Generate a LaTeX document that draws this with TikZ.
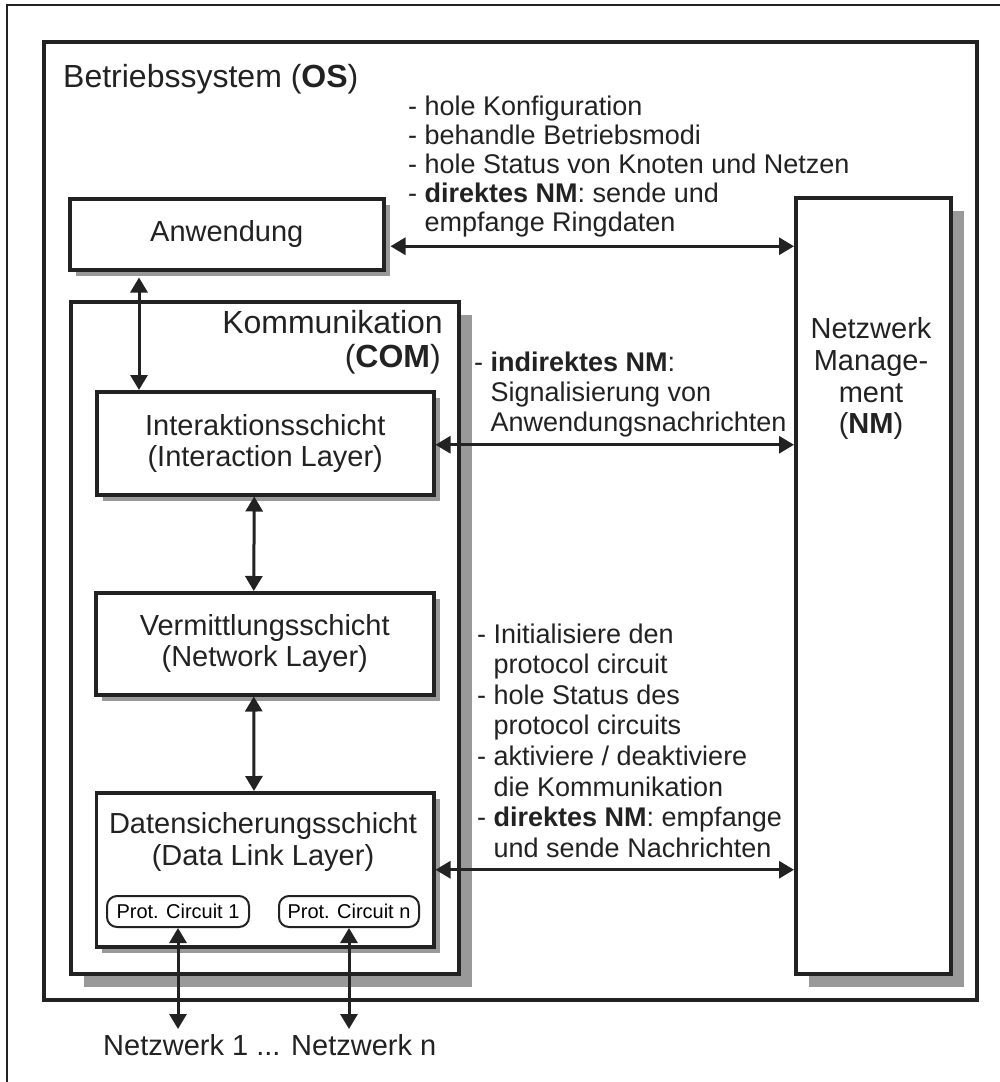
\documentclass[tikz,border=0pt]{standalone}
\usepackage{fontspec}
\setmainfont{Liberation Sans}
\usetikzlibrary{arrows.meta,shadows,calc}
\definecolor{ink}{HTML}{222222}
\definecolor{shade}{HTML}{999999}
\newcommand\bigfont{\fontsize{32}{34}\selectfont}
\newcommand\midfont{\fontsize{29}{31}\selectfont}
\newcommand\lstfont{\fontsize{27}{30}\selectfont}
\newcommand\smlfont{\fontsize{20}{22}\selectfont}
\newcommand\tline[4]{\node[txt, font=\lstfont] (#1) at (#2,#3) {#4};}
\begin{document}
\begin{tikzpicture}[x=1pt,y=-1pt,
  box/.style={draw=ink, line width=3.5pt, fill=white, inner sep=0pt, anchor=north west},
  shd/.style={general shadow={fill=shade, shadow xshift=#1, shadow yshift=-#1}},
  pcbox/.style={draw=ink, line width=2pt, fill=white, rounded corners=10pt, inner sep=0pt,
    minimum height=31pt, font=\smlfont},
  txt/.style={anchor=base west, inner sep=0pt, text=ink},
  ctxt/.style={anchor=base, inner sep=0pt, text=ink, font=\midfont},
  arr/.style={{Triangle[length=15pt,width=17pt]}-{Triangle[length=15pt,width=17pt]}, line width=3pt, draw=ink},
]
\useasboundingbox (0,0) rectangle (999,1082);
\fill[white] (0,0) rectangle (999,1082);
% outer thin frame
\draw[ink, line width=1.5pt] (7,5) rectangle (1012,1095);
% OS frame
\node[box, line width=4pt, minimum width=933pt, minimum height=958pt] (os) at (42,40) {};
\node[txt, font=\bigfont] (ostitle) at (63,87) {Betriebssystem (\textbf{OS})};

% NM box
\node[box, shd=13pt, minimum width=155pt, minimum height=776pt] (nm) at (794,196) {};
\node[ctxt] (nm1) at (871,338) {Netzwerk};
\node[ctxt] (nm2) at (871,370) {Manage-};
\node[ctxt] (nm3) at (871,402) {ment};
\node[ctxt] (nm4) at (871,433) {(\textbf{NM})};

% Anwendung
\node[box, shd=6pt, minimum width=314pt, minimum height=71pt, font=\midfont, text=ink] (anw) at (68,197) {Anwendung};

% COM
\node[box, shd=13pt, minimum width=388pt, minimum height=672pt] (com) at (69,300) {};
\node[txt, anchor=base east, font=\bigfont] (com1) at (443,333) {Kommunikation};
\node[txt, anchor=base east, font=\bigfont] (com2) at (441,367) {(\textbf{COM})};

% layers
\node[box, shd=6pt, minimum width=337pt, minimum height=103pt, font=\midfont, text=ink, align=center] (int) at (95,390) {Interaktionsschicht\\(Interaction Layer)};
\node[box, shd=6pt, minimum width=338pt, minimum height=102pt, font=\midfont, text=ink, align=center] (verm) at (94,591) {Vermittlungsschicht\\(Network Layer)};
\node[box, shd=6pt, minimum width=337.5pt, minimum height=154pt] (dl) at (94.5,791) {};
\node[ctxt] (dl1) at (263,833) {Datensicherungsschicht};
\node[ctxt] (dl2) at (263,865) {(Data Link Layer)};

% protocol circuits
\node[pcbox, minimum width=142pt] (pc1) at (178,911.5) {Prot. Circuit 1};
\node[pcbox, minimum width=140pt] (pcn) at (349,911.5) {Prot. Circuit n};

% networks
\node[txt, font=\midfont] (net) at (103,1055) {Netzwerk 1 ... Netzwerk n};
\coordinate (net1) at ($(pc1.south)+(0,101)$);
\coordinate (netn) at ($(pcn.south)+(0,101)$);

% top list
\tline{t1}{408}{115}{- hole Konfiguration}
\tline{t2}{408}{144}{- behandle Betriebsmodi}
\tline{t3}{408}{173}{- hole Status von Knoten und Netzen}
\tline{t4}{408}{202}{- \textbf{direktes NM}: sende und}
\tline{t5}{408}{231}{\phantom{- }empfange Ringdaten}

% middle list
\tline{m1}{474}{371}{- \textbf{indirektes NM}:}
\tline{m2}{474}{401}{\phantom{- }Signalisierung von}
\tline{m3}{474}{431}{\phantom{- }Anwendungsnachrichten}

% bottom list
\tline{b1}{477}{643}{- Initialisiere den}
\tline{b2}{477}{673.6}{\phantom{- }protocol circuit}
\tline{b3}{477}{704.2}{- hole Status des}
\tline{b4}{477}{734.8}{\phantom{- }protocol circuits}
\tline{b5}{477}{765.4}{- aktiviere / deaktiviere}
\tline{b6}{477}{796}{\phantom{- }die Kommunikation}
\tline{b7}{477}{826.6}{- \textbf{direktes NM}: empfange}
\tline{b8}{477}{857.2}{\phantom{- }und sende Nachrichten}

% connectors
\coordinate (a1) at ($(anw.east)+(5,12)$);
\draw[arr] (a1) -- (a1 -| nm.west);
\draw[arr] ($(int.east)+(0,1.5)$) -- ($(int.east -| nm.west)+(0,1.5)$);
\draw[arr] (dl.east) -- (dl.east -| nm.west);
\draw[arr] ($(anw.south west)+(71,6)$) -- ($(int.north west)+(44,0)$);
\draw[arr] ($(int.south)+(-11,0)$) -- ($(verm.north)+(-11,0)$);
\draw[arr] ($(verm.south)+(-11,0)$) -- ($(dl.north)+(-11,0)$);
\draw[arr] (pc1.south) -- (net1);
\draw[arr] (pcn.south) -- (netn);
\end{tikzpicture}
\end{document}
